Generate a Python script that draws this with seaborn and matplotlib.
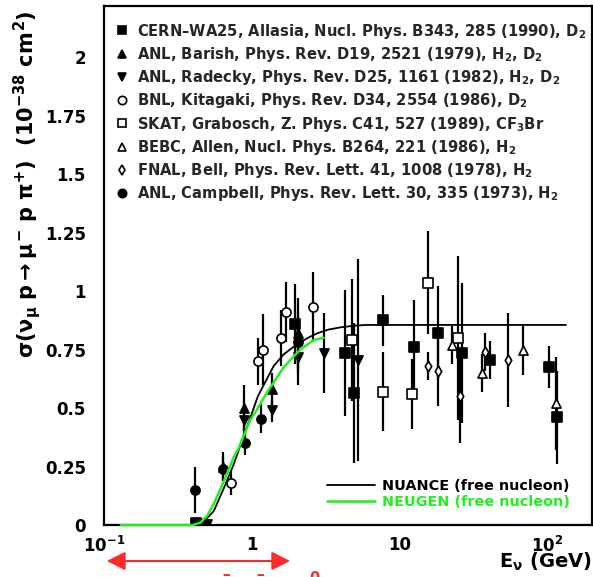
import numpy as np
import pandas as pd
import matplotlib
matplotlib.use("Agg")
import matplotlib.pyplot as plt
import seaborn as sns
from matplotlib.patches import FancyArrowPatch
from matplotlib.lines import Line2D
from matplotlib.ticker import FixedLocator, FixedFormatter, LogLocator, MultipleLocator, NullFormatter

# ---------------- data ----------------
cern_E = [0.42, 1.95, 4.3, 4.9, 7.7, 12.6, 18.3, 26.6, 41, 103, 117]
cern_s = [0.01, 0.86, 0.735, 0.565, 0.875, 0.76, 0.82, 0.735, 0.705, 0.675, 0.46]
cern_e = [0.02, 0.17, 0.27, 0.30, 0.11, 0.20, 0.20, 0.30, 0.08, 0.09, 0.20]

barish_E = [0.45, 0.64, 0.88, 1.38, 2.05]
barish_s = [0.01, 0.25, 0.50, 0.58, 0.82]
barish_e = [0.02, 0.06, 0.10, 0.07, 0.15]

radecky_E = [0.50, 0.88, 1.38, 2.05, 3.07, 5.2]
radecky_s = [0.005, 0.45, 0.49, 0.72, 0.735, 0.705]
radecky_e = [0.02, 0.08, 0.05, 0.12, 0.17, 0.43]

bnl_E = [0.72, 1.10, 1.20, 1.57, 1.70, 2.58]
bnl_s = [0.18, 0.70, 0.75, 0.80, 0.91, 0.93]
bnl_e = [0.05, 0.10, 0.15, 0.12, 0.13, 0.15]

skat_E = [4.8, 7.7, 12.2, 15.5, 25.0]
skat_s = [0.79, 0.57, 0.56, 1.035, 0.80]
skat_e = [0.26, 0.17, 0.15, 0.22, 0.35]

bebc_E = [22.8, 36, 68.5, 115]
bebc_s = [0.77, 0.65, 0.75, 0.52]
bebc_e = [0.08, 0.08, 0.11, 0.20]

fnal_E = [15.5, 18.3, 25.8, 38, 54.5]
fnal_s = [0.68, 0.66, 0.55, 0.74, 0.705]
fnal_e = [0.06, 0.15, 0.20, 0.08, 0.20]

campbell_E = [0.41, 0.64, 0.90, 1.15, 2.05]
campbell_s = [0.15, 0.24, 0.35, 0.455, 0.78]
campbell_e = [0.10, 0.05, 0.05, 0.06, 0.13]

nuance_E = [0.42, 0.45, 0.50, 0.554, 0.65, 0.756, 0.88, 0.98, 1.10, 1.28, 1.41,
            1.65, 2.0, 2.4, 2.8, 3.3, 4.0, 5.0, 6.0, 134]
nuance_s = [0.0, 0.01, 0.03, 0.06, 0.16, 0.26, 0.38, 0.46, 0.55, 0.63, 0.68,
            0.73, 0.77, 0.80, 0.82, 0.835, 0.845, 0.852, 0.855, 0.855]

neugen_E = [0.13, 0.40, 0.45, 0.50, 0.554, 0.65, 0.756, 0.817, 0.98, 1.03, 1.28,
            1.41, 1.65, 1.92, 2.14, 2.62, 3.07]
neugen_s = [0.0, 0.0, 0.01, 0.04, 0.09, 0.19, 0.29, 0.33, 0.45, 0.47, 0.57,
            0.61, 0.675, 0.72, 0.75, 0.79, 0.80]

x_tick_vals = [0.1, 1, 10, 100]
x_tick_labels = ["$10^{-1}$", "1", "10", "$10^{2}$"]
y_tick_vals = [0, 0.25, 0.5, 0.75, 1, 1.25, 1.5, 1.75, 2]
y_tick_labels = ["0", "0.25", "0.5", "0.75", "1", "1.25", "1.5", "1.75", "2"]

datasets = [
    ("CERN\u2013WA25, Allasia, Nucl. Phys. B343, 285 (1990), D$_2$", cern_E, cern_s, cern_e, "s", "black", 6),
    ("ANL, Barish, Phys. Rev. D19, 2521 (1979), H$_2$, D$_2$", barish_E, barish_s, barish_e, "^", "black", 6),
    ("ANL, Radecky, Phys. Rev. D25, 1161 (1982), H$_2$, D$_2$", radecky_E, radecky_s, radecky_e, "v", "black", 6),
    ("BNL, Kitagaki, Phys. Rev. D34, 2554 (1986), D$_2$", bnl_E, bnl_s, bnl_e, "o", "white", 6),
    ("SKAT, Grabosch, Z. Phys. C41, 527 (1989), CF$_3$Br", skat_E, skat_s, skat_e, "s", "white", 6),
    ("BEBC, Allen, Nucl. Phys. B264, 221 (1986), H$_2$", bebc_E, bebc_s, bebc_e, "^", "white", 6),
    ("FNAL, Bell, Phys. Rev. Lett. 41, 1008 (1978), H$_2$", fnal_E, fnal_s, fnal_e, "d", "white", 5),
    ("ANL, Campbell, Phys. Rev. Lett. 30, 335 (1973), H$_2$", campbell_E, campbell_s, campbell_e, "o", "black", 6),
]

# ---------------- style ----------------
sns.set_style("white")
plt.rcParams["font.family"] = ["DejaVu Sans"]
plt.rcParams["mathtext.fontset"] = "custom"
plt.rcParams["mathtext.rm"] = "DejaVu Sans:bold"
plt.rcParams["mathtext.it"] = "DejaVu Sans:bold"
plt.rcParams["mathtext.bf"] = "DejaVu Sans:bold"
plt.rcParams["font.weight"] = "bold"

W, H = 593, 577
fig = plt.figure(figsize=(W / 100, H / 100), dpi=100)
ax = fig.add_axes([104 / W, (H - 525) / H, (592 - 104) / W, (525 - 6) / H])
ax.set_xscale("log")

GREEN = "#22ee22"

handles = []
for label, E, s, e, mk, fc, ms in datasets:
    ax.errorbar(E, s, yerr=e, fmt="none", ecolor="black", elinewidth=1.6,
                capsize=0, zorder=3)
    df = pd.DataFrame({"E": E, "s": s})
    sns.scatterplot(data=df, x="E", y="s", ax=ax, marker=mk, s=ms ** 2 * 1.2,
                    color=fc, edgecolor="black", linewidth=1.2, zorder=4,
                    legend=False)
    handles.append(Line2D([], [], linestyle="none", marker=mk, markersize=ms,
                          markerfacecolor=fc, markeredgecolor="black",
                          markeredgewidth=1.2, label=label))

nu = pd.DataFrame({"E": nuance_E, "s": nuance_s})
ng = pd.DataFrame({"E": neugen_E, "s": neugen_s})
sns.lineplot(data=nu, x="E", y="s", ax=ax, color="black", linewidth=1.3,
             zorder=5, sort=False, clip_on=False)
sns.lineplot(data=ng, x="E", y="s", ax=ax, color=GREEN, linewidth=1.8,
             zorder=6, sort=False, clip_on=False)

ax.set_xlim(0.1, 201)
ax.set_ylim(0, 2.218)

ax.xaxis.set_major_locator(FixedLocator(x_tick_vals))
ax.xaxis.set_major_formatter(FixedFormatter(x_tick_labels))
ax.xaxis.set_minor_locator(LogLocator(base=10, subs=np.arange(2, 10)))
ax.xaxis.set_minor_formatter(NullFormatter())
ax.yaxis.set_major_locator(FixedLocator(y_tick_vals))
ax.yaxis.set_major_formatter(FixedFormatter(y_tick_labels))
ax.yaxis.set_minor_locator(MultipleLocator(0.05))
ax.tick_params(which="both", direction="in", top=False, right=False,
               width=1.5, color="black", labelsize=12, labelcolor="black")
ax.tick_params(which="major", length=10)
ax.tick_params(axis="y", which="major", pad=13)
ax.tick_params(axis="x", which="major", pad=8)
ax.tick_params(which="minor", length=5)
for t in ax.get_xticklabels() + ax.get_yticklabels():
    t.set_fontweight("bold")
for sp in ax.spines.values():
    sp.set_color("black")
    sp.set_linewidth(1.6)

ax.set_xlabel(r"E$_{\nu}$ (GeV)", fontsize=14, fontweight="bold", color="black")
ax.xaxis.set_label_coords(1.0, -0.05)
ax.xaxis.label.set_ha("right")
ax.xaxis.label.set_va("top")
ax.set_ylabel(r"$\sigma(\nu_{\mu}\ p \rightarrow \mu^{-}\ p\ \pi^{+})\ \ (10^{-38}\ cm^{2})$",
              fontsize=15, color="black")
ax.yaxis.set_label_coords(-0.158, 0.992)
ax.yaxis.label.set_ha("right")
ax.yaxis.label.set_va("center")

leg1 = ax.legend(handles=handles, loc="upper left", bbox_to_anchor=(0.022, 0.97),
                 frameon=False, handlelength=1.0, handletextpad=0.5,
                 labelspacing=0.29, borderaxespad=0.0, borderpad=0.0,
                 prop={"weight": "bold", "size": 10.6})
ax.add_artist(leg1)
mh = [Line2D([], [], color="black", linewidth=1.3),
      Line2D([], [], color=GREEN, linewidth=1.8)]
leg2 = ax.legend(mh, ["NUANCE (free nucleon)", "NEUGEN (free nucleon)"],
                 loc="lower right", bbox_to_anchor=(0.955, 0.03), frameon=False,
                 handlelength=3.3, handletextpad=0.5, labelspacing=0.15,
                 borderpad=0.0, borderaxespad=0.0,
                 prop={"weight": "bold", "size": 10.4},
                 labelcolor=["black", GREEN])

arr = FancyArrowPatch((104 / W, 1 - 561 / H), (293 / W, 1 - 561 / H),
                      transform=fig.transFigure, arrowstyle="<|-|>",
                      mutation_scale=28, color="#ff2a2a", linewidth=1.5)
fig.add_artist(arr)
fig.text(270 / W, 1 - 569 / H, r"$\bar{\nu}_{\mu}\ \bar{p} \rightarrow \pi^{0}$",
         color="#ff2a2a", fontsize=15, ha="center", va="top")

fig.savefig("out.png", dpi=100)
